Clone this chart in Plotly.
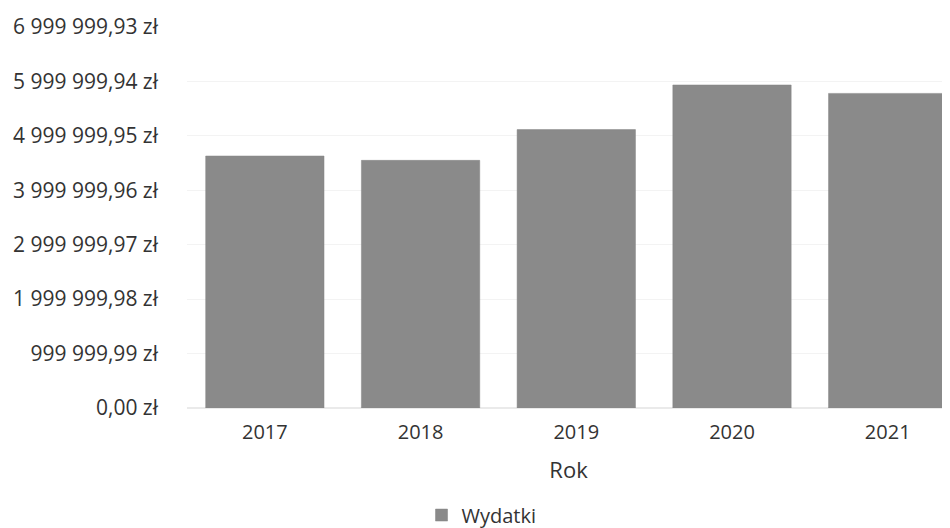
import plotly.graph_objects as go

years = ['2017', '2018', '2019', '2020', '2021']
wydatki = [4630000, 4550000, 5115000, 5935000, 5780000]

tick_vals = [k * 999999.99 for k in range(8)]
tick_text = ['0,00 zł', '999 999,99 zł', '1 999 999,98 zł', '2 999 999,97 zł',
             '3 999 999,96 zł', '4 999 999,95 zł', '5 999 999,94 zł', '6 999 999,93 zł']

# page body has an 8px margin, so the figure is shifted up/left by that
fig = go.Figure()
fig.add_trace(go.Bar(
    x=years,
    y=wydatki,
    name='Wydatki',
    width=0.76,
    marker=dict(color='#8a8a8a', line=dict(color='#858585', width=0.5)),
    showlegend=True
))

fig.update_layout(
    width=942,
    height=528,
    margin=dict(l=179, r=0, t=19, b=128),
    paper_bgcolor='white',
    plot_bgcolor='white',
    font=dict(family='Open Sans', color='#333333', size=20),
    showlegend=True,
    legend=dict(
        orientation='h',
        x=0.386, xanchor='center',
        y=-0.281, yanchor='middle',
        font=dict(size=20, color='#333333'),
        itemwidth=30
    ),
    xaxis=dict(
        type='category',
        range=[-0.5, 4.4],
        automargin=False,
        tickfont=dict(size=20),
        ticklabelstandoff=10,
        title=dict(text='Rok', font=dict(size=22), standoff=18),
        showgrid=False,
        showline=False,
    ),
    yaxis=dict(
        range=[0, tick_vals[-1]],
        automargin=False,
        tickvals=tick_vals,
        ticktext=tick_text,
        tickfont=dict(size=21),
        ticklabelstandoff=28,
        showgrid=True,
        gridcolor='#f3f3f3',
        zeroline=True,
        zerolinecolor='#eaeaea',
        showline=False,
    ),
)

fig.write_html("out.html")
